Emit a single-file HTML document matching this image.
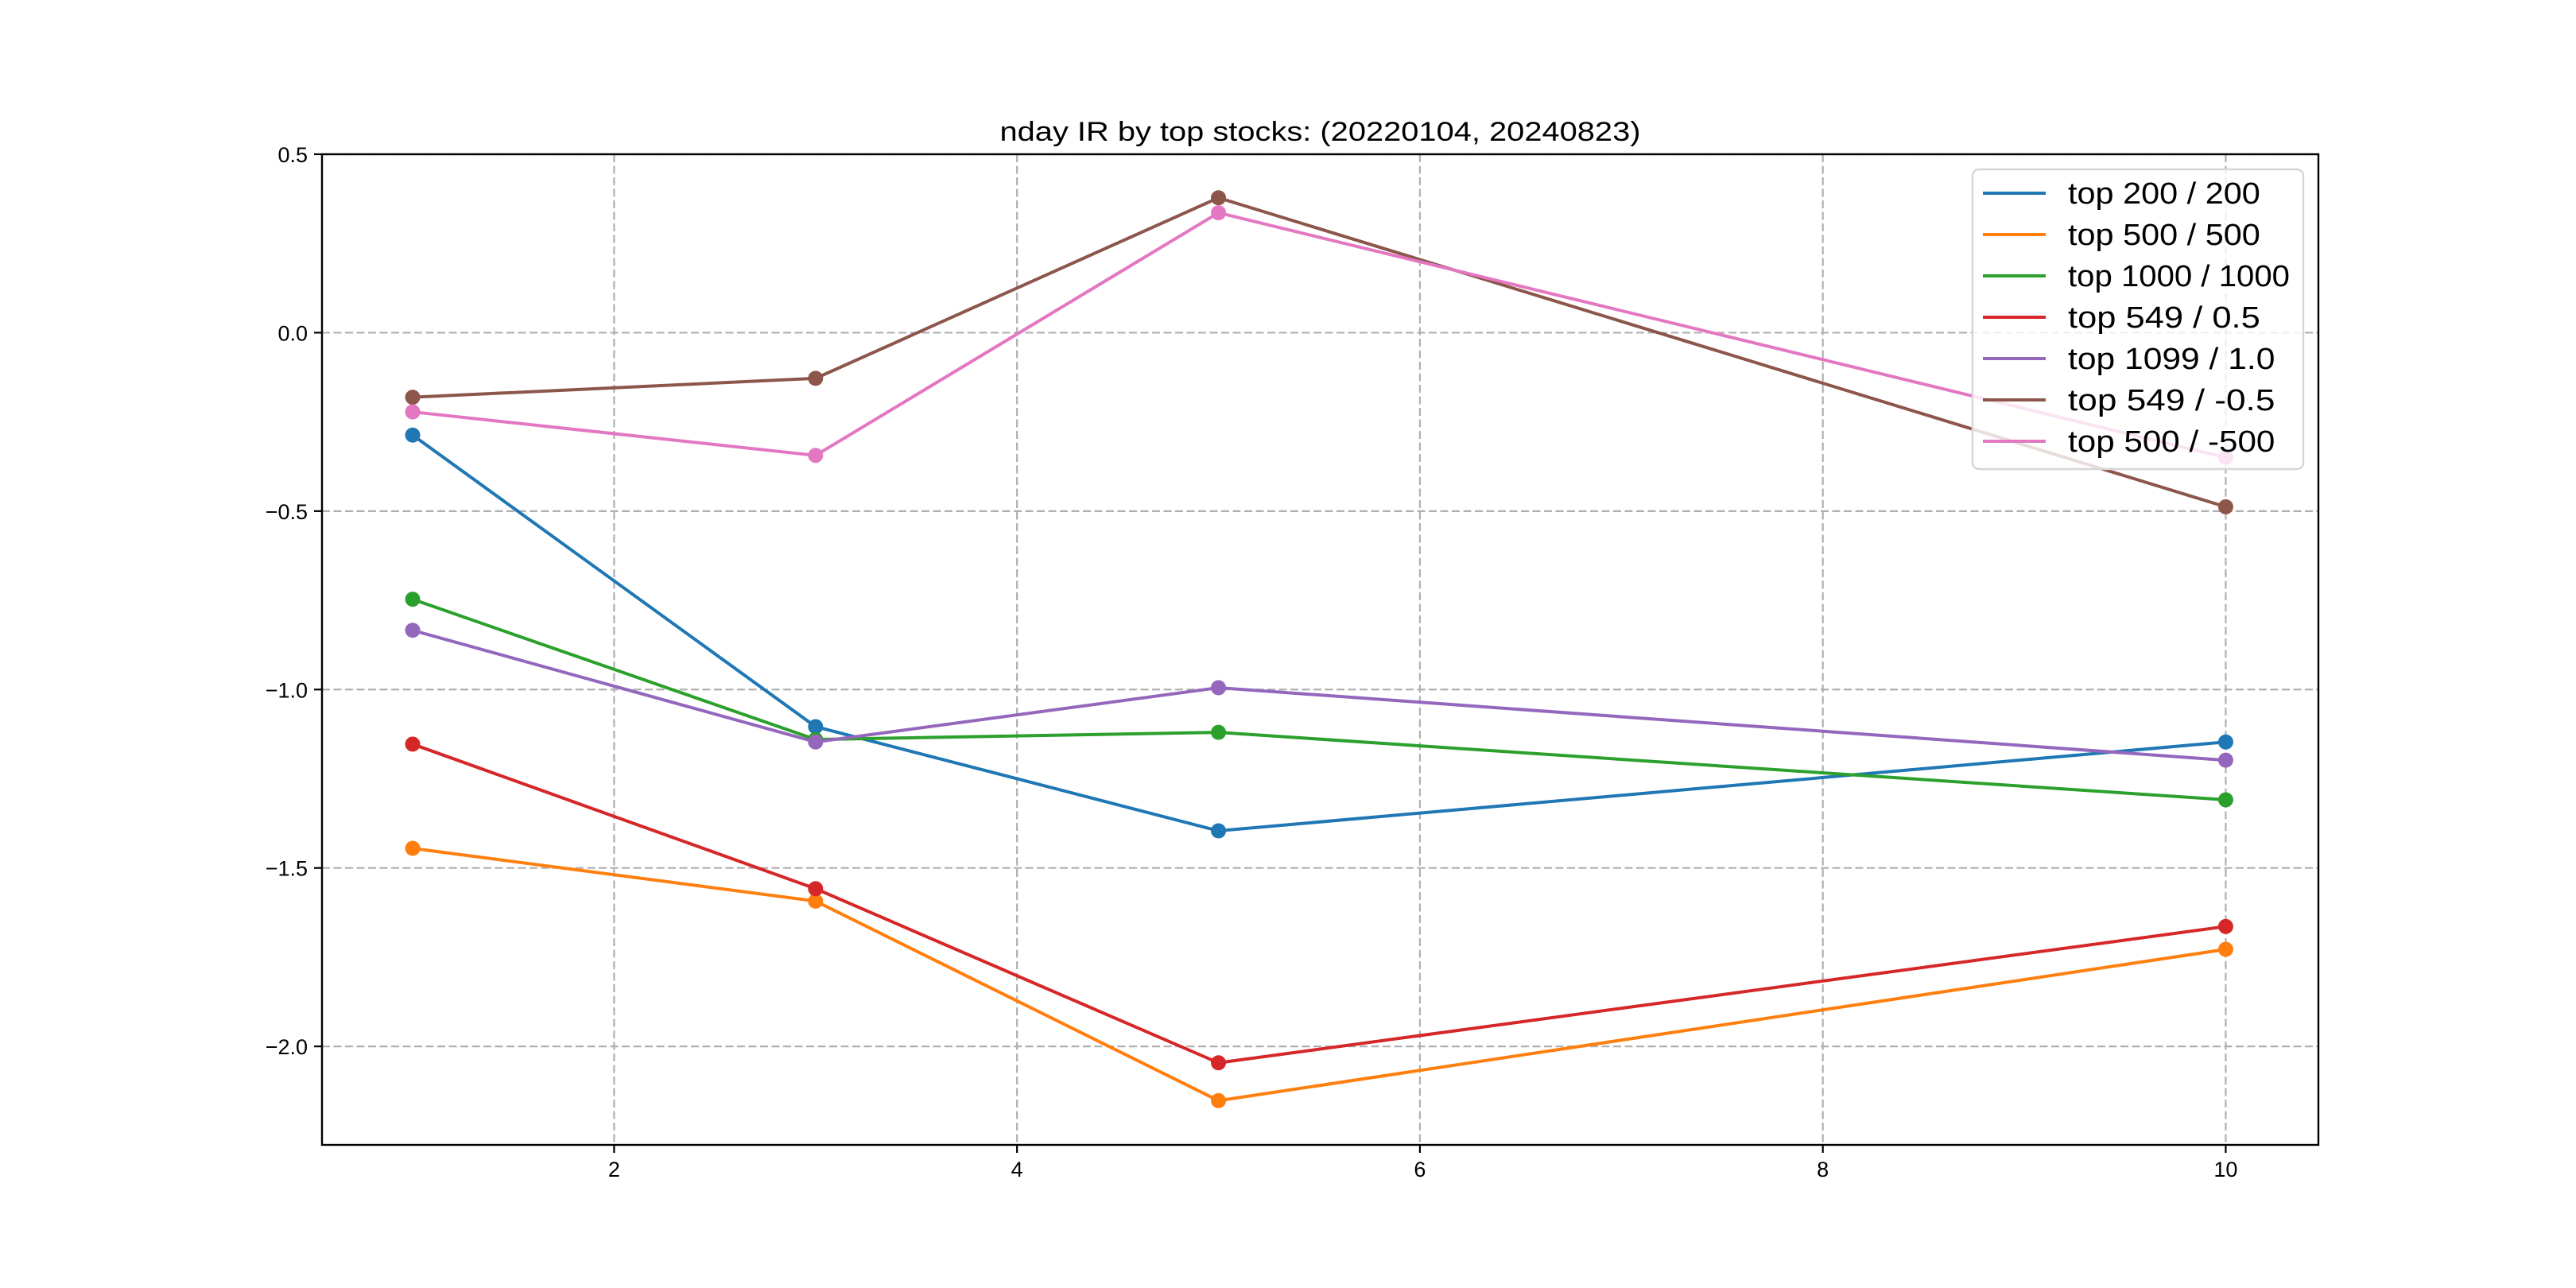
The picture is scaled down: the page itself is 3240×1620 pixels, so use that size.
<!DOCTYPE html>
<html><head><meta charset="utf-8"><style>
html,body{margin:0;padding:0;background:#fff;}
svg{display:block;}
text{font-family:"Liberation Sans","WenQuanYi Zen Hei",sans-serif;fill:#000;}
</style></head><body>
<svg id="chart" width="3240" height="1620" viewBox="0 0 3240 1620" xmlns="http://www.w3.org/2000/svg">
<rect width="3240" height="1620" fill="#fff"/>
<g id="grid"></g><g id="series"></g><g id="axes"></g><g id="legend"></g>
</svg>
<script>
const xValues = [1, 3, 5, 10];
const seriesNames = ["top 200 / 200","top 500 / 500","top 1000 / 1000","top 549 / 0.5","top 1099 / 1.0","top 549 / -0.5","top 500 / -500"];
const s200 = [-0.287, -1.104, -1.396, -1.147];
const s500 = [-1.445, -1.593, -2.152, -1.728];
const s1000 = [-0.747, -1.140, -1.120, -1.309];
const s549p = [-1.153, -1.558, -2.046, -1.664];
const s1099 = [-0.834, -1.147, -0.995, -1.198];
const s549n = [-0.181, -0.128, 0.378, -0.488];
const s500n = [-0.222, -0.344, 0.336, -0.350];
const xTicks = [2, 4, 6, 8, 10];
const yTicks = [0.5, 0.0, -0.5, -1.0, -1.5, -2.0];
const yTickLabels = ["0.5","0.0","\u22120.5","\u22121.0","\u22121.5","\u22122.0"];

const allSeries=[s200,s500,s1000,s549p,s1099,s549n,s500n];
const colors=["#1f77b4","#ff7f0e","#2ca02c","#d62728","#9467bd","#8c564b","#e377c2"];
const NS="http://www.w3.org/2000/svg";
const L=405,R=2916,T=194,B=1440;
const xMin=0.55,xMax=10.46,yMin=-2.276,yMax=0.5;
const xs=v=>L+(v-xMin)/(xMax-xMin)*(R-L);
const ys=v=>T+(yMax-v)/(yMax-yMin)*(B-T);
function mk(tag,attrs,parent){const e=document.createElementNS(NS,tag);for(const k in attrs)e.setAttribute(k,attrs[k]);parent.appendChild(e);return e;}
const grid=document.getElementById('grid'),ser=document.getElementById('series'),ax=document.getElementById('axes'),leg=document.getElementById('legend');
xTicks.forEach(t=>{const x=xs(t);
 const g=mk('line',{x1:x,x2:x,y1:T,y2:B,stroke:'#b0b0b0','stroke-width':2.2,'stroke-dasharray':'10,4.5'},grid);
 
 
 const tk=mk('line',{x1:x,x2:x,y1:B,y2:B+10,stroke:'#000','stroke-width':2.2},ax);
 
 
 const tx=mk('text',{x:x,y:B+40,'text-anchor':'middle','font-size':27},ax);tx.textContent=String(t);
 
 
});
yTicks.forEach((t,i)=>{const y=ys(t);
 const g=mk('line',{x1:L,x2:R,y1:y,y2:y,stroke:'#b0b0b0','stroke-width':2.2,'stroke-dasharray':'10,4.5'},grid);
 
 
 const tk=mk('line',{x1:L-10,x2:L,y1:y,y2:y,stroke:'#000','stroke-width':2.2},ax);
 
 
 const tx=mk('text',{x:L-18,y:y+10,'text-anchor':'end','font-size':27},ax);tx.textContent=yTickLabels[i];
 
 
});
allSeries.forEach((s,si)=>{
 const pts=s.map((v,i)=>xs(xValues[i])+','+ys(v)).join(' ');
 const pl=mk('polyline',{points:pts,fill:'none',stroke:colors[si],'stroke-width':4,'stroke-linejoin':'round'},ser);
 
 
 s.forEach((v,i)=>{const c=mk('circle',{cx:xs(xValues[i]),cy:ys(v),r:9.5,fill:colors[si]},ser);
  
  });
});
const fr=mk('rect',{x:L,y:T,width:R-L,height:B-T,fill:'none',stroke:'#000','stroke-width':2.4},ax);


const title=mk('text',{x:(L+R)/2,y:177,'text-anchor':'middle','font-size':34,textLength:806,lengthAdjust:'spacingAndGlyphs'},ax);
title.textContent='nday IR by top stocks: (20220104, 20240823)';


const lb=mk('rect',{x:2481,y:213,width:416,height:377,rx:8,fill:'#fff','fill-opacity':0.8,stroke:'#d6d6d6','stroke-width':2.4},leg);


seriesNames.forEach((n,i)=>{const y=243+i*52;
 const ln=mk('line',{x1:2494,x2:2573,y1:y,y2:y,stroke:colors[i],'stroke-width':4},leg);
 
 
 const t=mk('text',{x:2601,y:y+13,'font-size':38,textLength:n.length*18.6,lengthAdjust:'spacingAndGlyphs'},leg);t.textContent=n;
 
 
});
</script>
</body></html>
